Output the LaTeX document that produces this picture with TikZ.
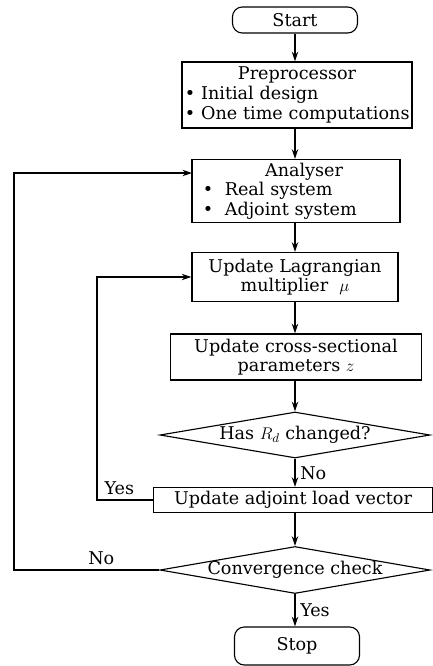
\documentclass[tikz,border=0pt]{standalone}
\usepackage{fontspec}
\setmainfont{DejaVu Serif}
\usetikzlibrary{shapes.geometric,arrows.meta}
\newcommand{\drawbox}{\node[draw,rectangle,inner sep=2pt]}
\newcommand{\drawround}{\node[draw,rectangle,rounded corners=7pt,minimum width=3.125cm]}
\newcommand{\drawdiam}{\node[draw,diamond,aspect=5.87,inner xsep=-8pt,inner ysep=-3pt,minimum width=6.75cm]}

\begin{document}
\begin{tikzpicture}[x=0.025cm,y=0.025cm,line width=0.8pt,
  >={Stealth[length=2.4mm,width=1.6mm]},
  every node/.style={font=\fontsize{12.5}{14}\selectfont}]
\useasboundingbox (0,0) rectangle (433,-666);
%main column
\drawround (start) at (295,-20) [minimum height=0.65cm] {Start};
\drawbox (pre) at (297,-95) [minimum height=1.65cm,inner xsep=0pt,text width=5.75cm,align=left]
  {\makebox[\linewidth]{Preprocessor}\\ \,\textbullet\ Initial design\\ \,\textbullet\ One time computations};
\drawbox (ana) at (296,-191) [minimum height=1.575cm,text width=5.06cm,align=left]
  {\makebox[\linewidth]{\hspace{0.4cm}Analyser}\\ \hspace*{0.2cm}\textbullet\ \ Real system\\ \hspace*{0.2cm}\textbullet\ \ Adjoint system};
\drawbox (lag) at (295,-277) [minimum width=5.15cm,minimum height=1.225cm,align=center]
  {Update Lagrangian\\ multiplier \ $\mu$};
\drawbox (cross) at (296,-357) [minimum width=6.275cm,minimum height=1.15cm,align=center]
  {Update cross-sectional\\ parameters $z$};
\drawdiam (hasrd) at (295,-435) [minimum height=1.15cm] {Has $R_d$ changed?};
\drawbox (adj) at (293,-500) [minimum width=6.975cm,minimum height=0.625cm] {Update adjoint load vector};
\drawdiam (conv) at (295,-570) [minimum height=1.175cm] {Convergence check};
\drawround (stop) at (297,-646) [minimum height=0.95cm] {Stop};

%helpers for the loops
\coordinate (noLeft) at (14,-570);
\coordinate (yesLeft) at (97,-500);
\coordinate (anaIn) at (192,-173);

\draw[->] (start) -- (start |- pre.north);
\draw[->] (pre.south -| start) -- (start |- ana.north);
\draw[->] (ana.south -| start) -- (start |- lag.north);
\draw[->] (lag.south -| start) -- (start |- cross.north);
\draw[->] (cross.south -| hasrd) -- (hasrd.north);
\draw[->] (hasrd.south) -- node[right] {No} (hasrd.south |- adj.north);
\draw[->] (adj.south -| conv) -- (conv.north);
\draw[->] (conv.south) -- node[right] {Yes} (conv.south |- stop.north);

\draw[->] (adj.west) -- node[pos=0.6,above] {Yes} (yesLeft) |- (lag.west);
\draw[->] (conv.west) -- node[pos=0.4,above] {No} (noLeft) |- (anaIn);
\end{tikzpicture}
\end{document}
